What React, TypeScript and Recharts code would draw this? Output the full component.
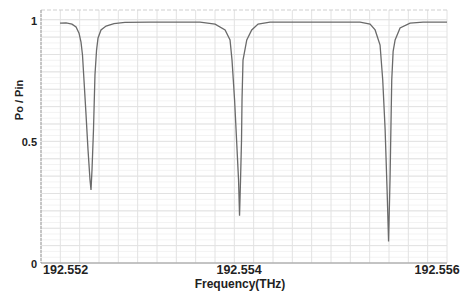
import React from "react";
import {
  LineChart,
  Line,
  XAxis,
  YAxis,
  CartesianGrid,
  ReferenceLine,
  Label,
} from "recharts";

// Frequency (THz) and normalized output power Po/Pin
const freqTHz = [
  192.552192, 192.552253, 192.552313, 192.552354, 192.552384, 192.552404,
  192.552419, 192.552434, 192.552455, 192.552475, 192.552495, 192.552505,
  192.552515, 192.55253, 192.552545, 192.552561, 192.552576, 192.552606,
  192.552657, 192.552737, 192.552848, 192.553101, 192.553404, 192.553606,
  192.553758, 192.553859, 192.553909, 192.553929, 192.553955, 192.553975,
  192.553995, 192.554005, 192.554015, 192.554025, 192.55403, 192.55404,
  192.554078, 192.554128, 192.554192, 192.554313, 192.554616, 192.554919,
  192.555222, 192.555323, 192.555374, 192.555424, 192.555451, 192.555475,
  192.555495, 192.55551, 192.555525, 192.555542, 192.555556, 192.555576,
  192.555626, 192.555727, 192.555859, 192.556101,
];

const poPin = [
  0.986, 0.987, 0.982, 0.97, 0.945, 0.908,
  0.855, 0.752, 0.608, 0.464, 0.341, 0.3,
  0.382, 0.547, 0.773, 0.875, 0.925, 0.958,
  0.974, 0.984, 0.989, 0.99, 0.99, 0.99,
  0.982, 0.958, 0.917, 0.834, 0.67, 0.506,
  0.341, 0.194, 0.341, 0.506, 0.67, 0.834,
  0.917, 0.958, 0.982, 0.99, 0.99, 0.99,
  0.99, 0.982, 0.958, 0.896, 0.752, 0.55,
  0.3, 0.088, 0.35, 0.752, 0.87, 0.917,
  0.966, 0.986, 0.99, 0.99,
];

const xTicks = [192.552, 192.554, 192.556];
const yTicks = [0, 0.5, 1];
const xDomain: [number, number] = [192.552, 192.5561];
const yDomain: [number, number] = [0, 1.04];

const data = freqTHz.map((f, i) => ({ f, p: poPin[i] }));

// grid positions (equal divisions of the plotted range)
const vGrid = Array.from({ length: 22 }, (_, k) => xDomain[0] + ((xDomain[1] - xDomain[0]) * k) / 21);
const hGrid = Array.from({ length: 15 }, (_, k) => k / 14);
const hMinor = Array.from({ length: 43 }, (_, k) => k / 42);

const FONT = "Liberation Sans, Arial, sans-serif";

const XTick = (props: any) => {
  const { x, y, payload, index } = props;
  const first = index === 0;
  return (
    <text
      x={first ? x + 2 : x}
      y={y + 11}
      textAnchor={first ? "start" : "middle"}
      fontFamily={FONT}
      fontWeight="bold"
      fontSize={12.5}
      fill="#222"
    >
      {payload.value}
    </text>
  );
};

const YTick = (props: any) => {
  const { y, payload } = props;
  return (
    <text
      x={37}
      y={y + 5}
      textAnchor="end"
      fontFamily={FONT}
      fontWeight="bold"
      fontSize={11}
      fill="#222"
    >
      {payload.value}
    </text>
  );
};

export default function App() {
  return (
    <div style={{ position: "absolute", left: 0, top: 0, background: "#fff" }}>
      <LineChart
        width={460}
        height={291}
        data={data}
        margin={{ top: 10, right: 13, left: 0, bottom: 0 }}
      >
        <CartesianGrid
          horizontalValues={hMinor}
          vertical={false}
          stroke="#f3f3f3"
          strokeWidth={1}
        />
        <CartesianGrid
          horizontalValues={hGrid}
          verticalValues={vGrid}
          stroke="#e2e2e2"
          strokeWidth={1}
        />
        <XAxis
          type="number"
          dataKey="f"
          domain={xDomain}
          ticks={xTicks}
          allowDataOverflow
          height={28}
          tickSize={0}
          tickMargin={0}
          tickLine={false}
          stroke="#9a9a9a"
          tick={<XTick />}
          interval={0}
        >
          <Label
            content={() => (
              <text
                x={240}
                y={288}
                textAnchor="middle"
                fontFamily={FONT}
                fontWeight="bold"
                fontSize={12}
                fill="#222"
              >
                Frequency(THz)
              </text>
            )}
          />
        </XAxis>
        <YAxis
          type="number"
          domain={yDomain}
          ticks={yTicks}
          allowDataOverflow
          width={41}
          tickSize={0}
          tickMargin={0}
          tickLine={false}
          stroke="#9a9a9a"
          strokeDasharray="3 1"
          tick={<YTick />}
          interval={0}
        >
          <Label
            content={() => (
              <text
                x={23}
                y={100}
                transform="rotate(-90, 23, 100)"
                textAnchor="middle"
                fontFamily={FONT}
                fontWeight="bold"
                fontSize={11}
                fill="#222"
              >
                Po / Pin
              </text>
            )}
          />
        </YAxis>
        <ReferenceLine y={1.04} stroke="#cfcfcf" strokeDasharray="4 2" />
        <Line
          type="linear"
          dataKey="p"
          stroke="#6a6a6a"
          strokeWidth={1.3}
          dot={false}
          isAnimationActive={false}
        />
      </LineChart>
    </div>
  );
}
